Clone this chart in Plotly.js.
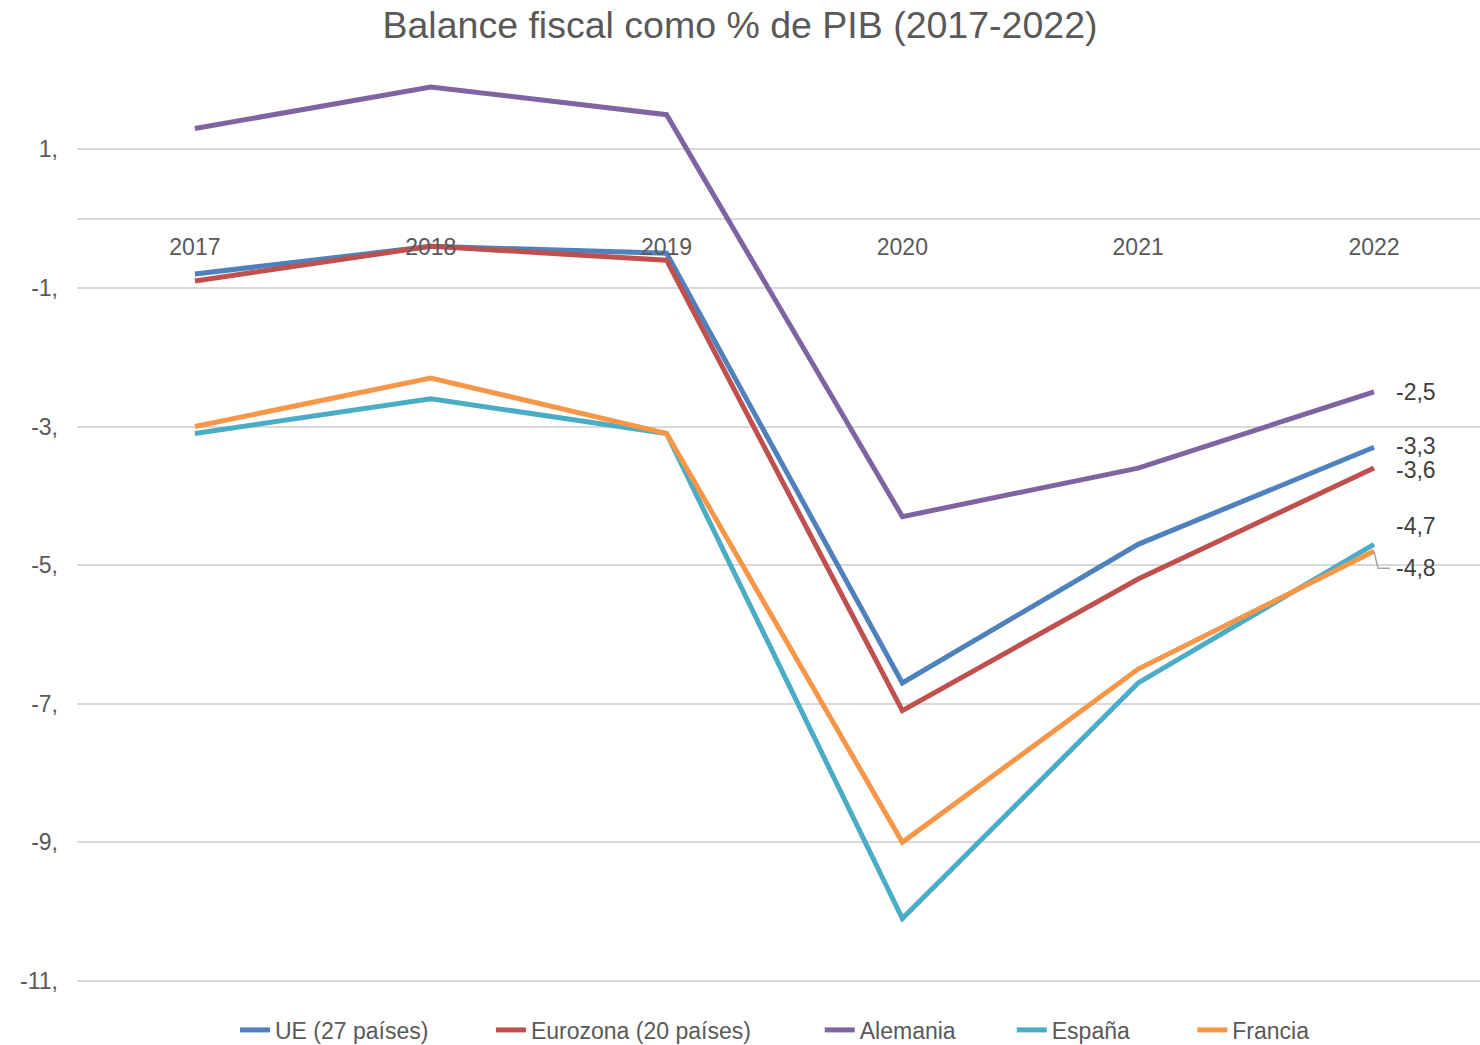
<!DOCTYPE html>
<html>
<head>
<meta charset="utf-8">
<script src="https://cdn.plot.ly/plotly-3.0.1.min.js"></script>
<style>html,body{margin:0;padding:0;background:#fff;}#chart{width:1480px;height:1045px;}</style>
</head>
<body>
<div id="chart"></div>
<script>
const years = ['2017', '2018', '2019', '2020', '2021', '2022'];
const seriesNames = ['UE (27 países)', 'Eurozona (20 países)', 'Alemania', 'España', 'Francia'];
const ue = [-0.8, -0.4, -0.5, -6.7, -4.7, -3.3];
const eurozona = [-0.9, -0.4, -0.6, -7.1, -5.2, -3.6];
const alemania = [1.3, 1.9, 1.5, -4.3, -3.6, -2.5];
const espana = [-3.1, -2.6, -3.1, -10.1, -6.7, -4.7];
const francia = [-3.0, -2.3, -3.1, -9.0, -6.5, -4.8];
const yTickVals = [-11, -9, -7, -5, -3, -1, 1];
const yTickText = ['-11,', '-9,', '-7,', '-5,', '-3,', '-1,', '1,'];

const colors = ['#4F81BD', '#C0504D', '#8064A2', '#4BACC6', '#F79646'];
const allSeries = [ue, eurozona, alemania, espana, francia];
const labelShift = [1, -2, 0, 18, -17];

const textColor = '#595959';
const fontFam = 'Liberation Sans, Arial, sans-serif';
const legendPad = ['\u00a0'.repeat(9), '\u00a0'.repeat(10), '\u00a0'.repeat(8), '\u00a0'.repeat(9), ''];

const traces = allSeries.map((vals, i) => ({
  type: 'scatter',
  mode: 'lines',
  x: years.map((_, k) => k),
  y: vals,
  name: seriesNames[i] + legendPad[i],
  line: {color: colors[i], width: 5},
  hoverinfo: 'skip'
}));

const fmt = v => v.toFixed(1).replace('.', ',');
const annotations = allSeries.map((vals, i) => {
  const last = vals[vals.length - 1];
  return {
    x: vals.length - 1, y: last, xref: 'x', yref: 'y',
    text: fmt(last), showarrow: false,
    xanchor: 'left', yanchor: 'middle',
    xshift: 21, yshift: labelShift[i], borderpad: 0,
    font: {family: fontFam, size: 23, color: '#404040'}
  };
});

const layout = {
  width: 1480, height: 1045,
  paper_bgcolor: '#ffffff', plot_bgcolor: '#ffffff',
  margin: {l: 77, r: 0, t: 80, b: 62, autoexpand: false},
  title: {
    text: 'Balance fiscal como % de PIB (2017-2022)',
    font: {family: fontFam, size: 37.5, color: textColor},
    x: 0.5, xref: 'container', xanchor: 'center',
    y: 1 - 25 / 1045, yref: 'container', yanchor: 'middle'
  },
  xaxis: {
    type: 'linear',
    range: [-0.5, 5.4496],
    tickvals: years.map((_, k) => k), ticktext: years,
    showgrid: false, zeroline: false, showline: false,
    anchor: 'free', position: 11.03 / 13.03,
    ticks: '', ticklabelstandoff: 12,
    tickfont: {family: fontFam, size: 23, color: textColor}
  },
  yaxis: {
    range: [-11.03, 2],
    tickvals: yTickVals, ticktext: yTickText,
    showgrid: true, gridcolor: '#D9D9D9', gridwidth: 2,
    zeroline: true, zerolinecolor: '#D9D9D9', zerolinewidth: 2,
    showline: false, ticks: '', ticklabelstandoff: 18,
    tickfont: {family: fontFam, size: 23, color: textColor}
  },
  showlegend: true,
  legend: {
    orientation: 'h', x: 158 / 1403, xanchor: 'left',
    y: -0.052, yanchor: 'middle',
    font: {family: fontFam, size: 23, color: textColor},
    tracegroupgap: 0
  },
  annotations: annotations,
  shapes: [{
    type: 'path', xref: 'x', yref: 'y', xsizemode: 'pixel', ysizemode: 'pixel',
    xanchor: francia.length - 1, yanchor: francia[francia.length - 1],
    path: 'M0,0 L4,-17 L16,-17',
    line: {color: '#A6A6A6', width: 1.5}
  }]
};

Plotly.newPlot('chart', traces, layout, {staticPlot: true, displayModeBar: false});
</script>
</body>
</html>
